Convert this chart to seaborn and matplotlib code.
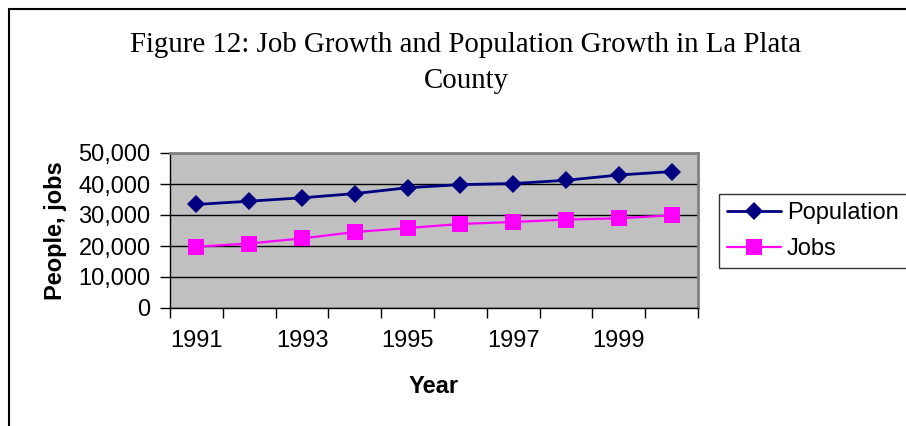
import numpy as np
import pandas as pd
import matplotlib
matplotlib.use('Agg')
import matplotlib.pyplot as plt
import seaborn as sns
from matplotlib.ticker import FuncFormatter, MultipleLocator, FixedLocator

# 数据
years = [1991, 1992, 1993, 1994, 1995, 1996, 1997, 1998, 1999, 2000]
population = [33400, 34450, 35550, 36900, 38800, 39800, 40150, 41200, 42900, 44000]
jobs = [19750, 20800, 22450, 24500, 25800, 27100, 27750, 28500, 28950, 29900]
label_years = [1991, 1993, 1995, 1997, 1999]

title_lines = ['Figure 12: Job Growth and Population Growth in La Plata', 'County']

sns.set_style('white')
plt.rcParams['font.family'] = ['Liberation Sans', 'DejaVu Sans']
for k in ['text.color', 'axes.labelcolor', 'xtick.color', 'ytick.color']:
    plt.rcParams[k] = 'black'

df = pd.DataFrame({'Year': years + years,
                   'value': population + jobs,
                   'series': ['Population'] * len(years) + ['Jobs'] * len(years)})

fig = plt.figure(figsize=(9.06, 4.26), dpi=100)
ax = fig.add_axes([170 / 906, 1 - 308 / 426, 528 / 906, 155 / 426])
ax.set_facecolor('#C0C0C0')

sns.lineplot(data=df, x='Year', y='value', hue='series', style='series',
             palette={'Population': '#000080', 'Jobs': '#FF00FF'},
             markers={'Population': 'D', 'Jobs': 's'},
             dashes=False, ax=ax, legend=False)
lines = ax.get_lines()
lines[0].set_linewidth(2.0)
lines[0].set_markersize(9.5)
lines[1].set_linewidth(1.6)
lines[1].set_markersize(12)
for ln in lines:
    ln.set_markeredgewidth(0)
    ln.set_zorder(3)

ax.set_xlim(years[0] - 0.5, years[-1] + 0.5)
ax.set_ylim(0, 50000)
ax.yaxis.set_major_locator(MultipleLocator(10000))
ax.yaxis.set_major_formatter(FuncFormatter(lambda v, p: f'{int(v):,}'))
ax.grid(axis='y', color='black', linewidth=1)
ax.set_axisbelow(True)

# 刻度在类别之间，标签在类别中心
ax.xaxis.set_major_locator(FixedLocator(np.arange(years[0] - 0.5, years[-1] + 1, 1)))
ax.xaxis.set_major_formatter(FuncFormatter(lambda v, p: ''))
ax.xaxis.set_minor_locator(FixedLocator(label_years))
ax.xaxis.set_minor_formatter(FuncFormatter(lambda v, p: f'{int(round(v))}'))
ax.tick_params(axis='x', which='major', direction='out', length=7, width=1, color='black', bottom=True)
ax.tick_params(axis='x', which='minor', length=0, pad=16, labelsize=17, bottom=True)
ax.tick_params(axis='y', direction='out', length=7, width=1, color='black', pad=7, labelsize=17, left=True)

for s in ['left', 'bottom']:
    ax.spines[s].set_color('black')
    ax.spines[s].set_linewidth(1)
for s in ['top', 'right']:
    ax.spines[s].set_color('#808080')
    ax.spines[s].set_linewidth(2)

ax.set_xlabel('Year', fontsize=17, fontweight='bold')
ax.xaxis.set_label_coords(0.5, -0.43)
ax.set_ylabel('People, jobs', fontsize=17, fontweight='bold')
ax.yaxis.set_label_coords(-0.196, 0.5)

leg = ax.legend(lines, ['Population', 'Jobs'], loc='upper left',
                bbox_to_anchor=(719 / 906, 1 - 194 / 426), bbox_transform=fig.transFigure,
                fontsize=17, frameon=True, fancybox=False, framealpha=1,
                edgecolor='#333333', handlelength=2.3, handletextpad=0.25,
                labelspacing=0.6, borderpad=0.33, borderaxespad=0)
leg.get_frame().set_linewidth(1)

fig.text(466 / 906, 1 - 52 / 426, title_lines[0], ha='center', va='baseline',
         fontsize=20.8, family=['Liberation Serif', 'DejaVu Serif'])
fig.text(466 / 906, 1 - 87.5 / 426, title_lines[1], ha='center', va='baseline',
         fontsize=20.8, family=['Liberation Serif', 'DejaVu Serif'])

# 外框
fig.add_artist(plt.Line2D([9 / 906, 1], [1 - 9 / 426, 1 - 9 / 426], color='black', linewidth=1.5,
                          transform=fig.transFigure))
fig.add_artist(plt.Line2D([9 / 906, 9 / 906], [0, 1 - 9 / 426], color='black', linewidth=1.5,
                          transform=fig.transFigure))

fig.savefig('out.png', dpi=100)
